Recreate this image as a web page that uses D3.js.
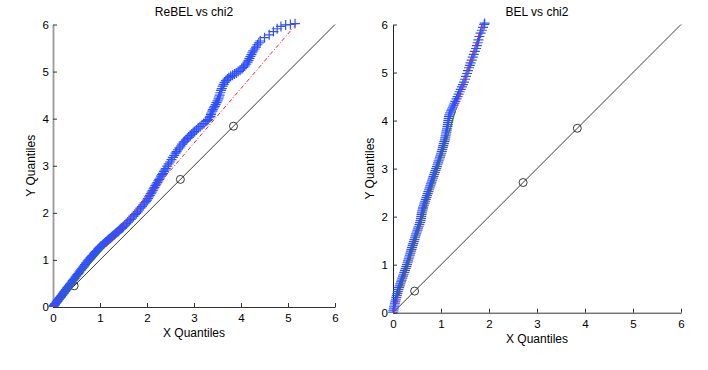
<!DOCTYPE html>
<meta charset="utf-8">
<style>
body { margin: 0; background: #fff; }
text { font-family: "Liberation Sans", Arial, sans-serif; fill: #000; }
.tick text { font-size: 11.5px; }
</style>
<body>
<script src="https://d3js.org/d3.v7.min.js"></script>
<script>

// axis ticks for both panels
var tickVals = [0, 1, 2, 3, 4, 5, 6];

// chi2 reference quantiles (circles on the 45 degree line)
var refQuantiles = [0.45, 2.71, 3.84];

// ReBEL vs chi2 : [chi2 quantile, sample quantile]
var rebelPts = [
  [0.00,0.00],[0.01,0.01],[0.02,0.03],[0.03,0.04],[0.04,0.05],[0.05,0.07],[0.06,0.08],[0.07,0.09],[0.08,0.11],[0.09,0.12],
  [0.10,0.13],[0.11,0.15],[0.12,0.16],[0.13,0.17],[0.14,0.19],[0.15,0.20],[0.16,0.21],[0.17,0.22],[0.18,0.24],[0.19,0.25],
  [0.20,0.26],[0.21,0.28],[0.22,0.29],[0.23,0.30],[0.24,0.32],[0.25,0.33],[0.26,0.34],[0.27,0.36],[0.28,0.37],[0.29,0.38],
  [0.30,0.40],[0.31,0.41],[0.32,0.42],[0.33,0.44],[0.34,0.45],[0.36,0.48],[0.38,0.50],[0.40,0.53],[0.42,0.56],[0.44,0.58],
  [0.46,0.61],[0.48,0.64],[0.50,0.66],[0.52,0.69],[0.54,0.71],[0.56,0.74],[0.58,0.77],[0.60,0.79],[0.62,0.82],[0.64,0.85],
  [0.66,0.87],[0.68,0.90],[0.70,0.93],[0.72,0.95],[0.74,0.98],[0.76,1.00],[0.78,1.02],[0.80,1.05],[0.82,1.07],[0.84,1.09],
  [0.86,1.11],[0.88,1.14],[0.90,1.16],[0.92,1.18],[0.94,1.20],[0.96,1.23],[0.98,1.25],[1.00,1.27],[1.02,1.29],[1.04,1.30],
  [1.06,1.32],[1.08,1.34],[1.10,1.36],[1.12,1.38],[1.14,1.39],[1.16,1.41],[1.18,1.43],[1.20,1.45],[1.22,1.46],[1.24,1.48],
  [1.26,1.50],[1.28,1.52],[1.30,1.53],[1.32,1.55],[1.34,1.57],[1.36,1.59],[1.38,1.60],[1.40,1.62],[1.42,1.64],[1.44,1.66],
  [1.46,1.67],[1.48,1.69],[1.50,1.71],[1.53,1.74],[1.56,1.77],[1.59,1.80],[1.62,1.83],[1.65,1.86],[1.68,1.89],[1.71,1.93],
  [1.74,1.96],[1.77,1.99],[1.80,2.02],[1.83,2.06],[1.86,2.10],[1.89,2.13],[1.92,2.17],[1.95,2.21],[1.98,2.24],[2.00,2.27],
  [2.02,2.30],[2.04,2.34],[2.06,2.37],[2.08,2.41],[2.10,2.44],[2.12,2.47],[2.14,2.51],[2.16,2.54],[2.18,2.58],[2.20,2.61],
  [2.22,2.64],[2.24,2.68],[2.26,2.71],[2.28,2.74],[2.30,2.78],[2.32,2.81],[2.34,2.84],[2.36,2.88],[2.38,2.91],[2.40,2.94],
  [2.43,2.99],[2.46,3.04],[2.49,3.08],[2.52,3.13],[2.55,3.18],[2.58,3.22],[2.61,3.27],[2.63,3.30],[2.66,3.34],[2.69,3.38],
  [2.72,3.42],[2.75,3.46],[2.78,3.50],[2.80,3.52],[2.83,3.55],[2.86,3.58],[2.89,3.61],[2.92,3.64],[2.95,3.67],[2.98,3.70],
  [3.01,3.73],[3.05,3.76],[3.09,3.80],[3.13,3.83],[3.17,3.87],[3.21,3.90],[3.25,3.94],[3.28,3.96],[3.30,3.98],[3.33,4.02],
  [3.35,4.05],[3.36,4.09],[3.37,4.12],[3.39,4.16],[3.40,4.19],[3.42,4.23],[3.44,4.26],[3.46,4.30],[3.48,4.34],[3.50,4.38],
  [3.52,4.42],[3.53,4.46],[3.545,4.50],[3.56,4.55],[3.575,4.60],[3.59,4.64],[3.61,4.69],[3.63,4.73],[3.65,4.77],[3.68,4.81],
  [3.71,4.84],[3.74,4.87],[3.78,4.90],[3.82,4.92],[3.86,4.95],[3.90,4.97],[3.94,5.00],[3.98,5.03],[4.02,5.06],[4.05,5.09],
  [4.08,5.12],[4.11,5.16],[4.14,5.20],[4.16,5.24],[4.18,5.28],[4.20,5.32],[4.22,5.36],[4.24,5.40],[4.26,5.44],[4.29,5.48],
  [4.32,5.52],[4.35,5.57],[4.38,5.61],[4.41,5.65],[4.50,5.72],[4.60,5.78],[4.69,5.85],[4.77,5.91],[4.85,5.96],[4.95,5.99],
  [5.05,6.00],[5.15,6.02]
];
var rebelFit = [[0, 0], [5.17, 6]];          // red dash-dot
var rebelQuart = [[0.15, 0.17], [1.1, 1.28]]; // green segment

// BEL vs chi2 : [chi2 quantile, sample quantile]
var belPts = [
  [0.000,0.00],[0.008,0.04],[0.016,0.08],[0.024,0.12],[0.032,0.16],[0.040,0.20],[0.050,0.24],[0.060,0.28],[0.070,0.32],[0.080,0.36],
  [0.090,0.40],[0.100,0.44],[0.113,0.48],[0.127,0.52],[0.140,0.56],[0.153,0.60],[0.167,0.64],[0.180,0.68],[0.194,0.72],[0.208,0.76],
  [0.222,0.80],[0.236,0.84],[0.250,0.88],[0.264,0.92],[0.278,0.96],[0.290,1.00],[0.302,1.04],[0.314,1.08],[0.326,1.12],[0.338,1.16],
  [0.350,1.20],[0.362,1.24],[0.374,1.28],[0.386,1.32],[0.398,1.36],[0.410,1.40],[0.422,1.44],[0.434,1.48],[0.446,1.52],[0.458,1.56],
  [0.470,1.60],[0.483,1.64],[0.497,1.68],[0.510,1.72],[0.523,1.76],[0.537,1.80],[0.550,1.84],[0.565,1.88],[0.575,1.92],[0.582,1.96],
  [0.588,2.00],[0.594,2.04],[0.600,2.08],[0.610,2.12],[0.620,2.16],[0.630,2.20],[0.643,2.24],[0.657,2.28],[0.670,2.32],[0.683,2.36],
  [0.697,2.40],[0.710,2.44],[0.723,2.48],[0.737,2.52],[0.750,2.56],[0.763,2.60],[0.777,2.64],[0.790,2.68],[0.803,2.72],[0.817,2.76],
  [0.830,2.80],[0.844,2.84],[0.858,2.88],[0.872,2.92],[0.886,2.96],[0.900,3.00],[0.913,3.04],[0.927,3.08],[0.940,3.12],[0.953,3.16],
  [0.967,3.20],[0.980,3.24],[0.993,3.28],[1.005,3.32],[1.016,3.36],[1.027,3.40],[1.037,3.44],[1.048,3.48],[1.059,3.52],[1.069,3.56],
  [1.080,3.60],[1.088,3.64],[1.096,3.68],[1.104,3.72],[1.112,3.76],[1.120,3.80],[1.128,3.84],[1.136,3.88],[1.143,3.92],[1.148,3.96],
  [1.153,4.00],[1.158,4.04],[1.165,4.08],[1.175,4.12],[1.192,4.16],[1.210,4.20],[1.228,4.24],[1.246,4.28],[1.264,4.32],[1.282,4.36],
  [1.300,4.40],[1.323,4.45],[1.345,4.50],[1.367,4.55],[1.390,4.60],[1.412,4.65],[1.434,4.70],[1.456,4.75],[1.478,4.80],[1.500,4.86],
  [1.520,4.92],[1.541,4.98],[1.562,5.04],[1.583,5.10],[1.600,5.15],[1.618,5.20],[1.640,5.26],[1.662,5.32],[1.684,5.38],[1.705,5.44],
  [1.730,5.50],[1.747,5.56],[1.764,5.62],[1.781,5.68],[1.800,5.75],[1.826,5.82],[1.851,5.88],[1.875,5.94],[1.900,6.00],[1.910,6.03]
];
var belFit = [[0.02, 0], [1.85, 6]];
var belQuart = [[0.09, 0.3], [1.3, 4.2]];

var svg = d3.select("body").append("svg")
    .attr("width", 708)
    .attr("height", 370);

function panel(cfg) {
  var x = d3.scaleLinear().domain([0, 6]).range([cfg.left, cfg.right]);
  var y = d3.scaleLinear().domain([0, 6]).range([cfg.bottom, cfg.top]);
  var g = svg.append("g");

  var clipId = "clip" + cfg.id;
  svg.append("clipPath").attr("id", clipId)
    .append("rect")
      .attr("x", cfg.left - 6).attr("y", cfg.top - 6)
      .attr("width", cfg.right - cfg.left + 12).attr("height", cfg.bottom - cfg.top + 6);

  // x axis, ticks pointing inward like matlab
  g.append("g")
      .attr("transform", "translate(0," + cfg.bottom + ")")
      .call(d3.axisBottom(x).tickValues(tickVals).tickFormat(d3.format("d"))
        .tickSizeInner(-4).tickSizeOuter(0).tickPadding(cfg.xPad))
      .call(function(a) {
        a.select(".domain").attr("stroke", "#333");
        a.selectAll(".tick line").attr("stroke", "#333");
      });

  // y axis
  g.append("g")
      .attr("transform", "translate(" + cfg.left + ",0)")
      .call(d3.axisLeft(y).tickValues(tickVals).tickFormat(d3.format("d"))
        .tickSizeInner(-4).tickSizeOuter(0).tickPadding(cfg.yPad))
      .call(function(a) {
        a.select(".domain").attr("stroke", cfg.yAxisColor).attr("stroke-width", cfg.yAxisWidth);
        a.selectAll(".tick line").attr("stroke", "#333");
      });
  g.selectAll(".tick text").attr("fill", "#000");

  var plot = g.append("g").attr("clip-path", "url(#" + clipId + ")");

  // 45 degree reference line with circles
  plot.append("line")
      .attr("x1", x(0)).attr("y1", y(0)).attr("x2", x(6)).attr("y2", y(6))
      .attr("stroke", "#222").attr("stroke-width", 0.9);
  plot.selectAll("circle.ref").data(refQuantiles).enter().append("circle")
      .attr("class", "ref")
      .attr("cx", function(d) { return x(d); })
      .attr("cy", function(d) { return y(d); })
      .attr("r", 4)
      .attr("fill", "none").attr("stroke", "#222").attr("stroke-width", 0.9);

  // sample quantiles as + markers
  plot.selectAll("path.pt").data(cfg.pts).enter().append("path")
      .attr("class", "pt")
      .attr("d", function(d) {
        var cx = x(d[0]), cy = y(d[1]);
        return "M" + (cx - 5) + "," + cy + "H" + (cx + 5) + "M" + cx + "," + (cy - 5) + "V" + (cy + 5);
      })
      .attr("stroke", "#2f50ff").attr("stroke-width", 1.2).attr("fill", "none");

  var line = d3.line().x(function(d) { return x(d[0]); }).y(function(d) { return y(d[1]); });

  plot.append("path").datum(cfg.fit)
      .attr("d", line)
      .attr("stroke", "#ff2020").attr("stroke-width", 1)
      .attr("stroke-dasharray", "4,2,1,2").attr("fill", "none");

  plot.append("path").datum(cfg.quart)
      .attr("d", line)
      .attr("stroke", "#1a8a1a").attr("stroke-width", 1).attr("fill", "none");

  // titles and labels
  svg.append("text")
      .attr("x", (cfg.left + cfg.right) / 2).attr("y", 15.5)
      .attr("text-anchor", "middle").style("font-size", "12px")
      .text(cfg.title);
  svg.append("text")
      .attr("x", (cfg.left + cfg.right) / 2).attr("y", cfg.bottom + 30)
      .attr("text-anchor", "middle").style("font-size", "12px")
      .text("X Quantiles");
  svg.append("text")
      .attr("transform", "translate(" + cfg.yLabelX + "," + (cfg.top + cfg.bottom) / 2 + ") rotate(-90)")
      .attr("text-anchor", "middle").style("font-size", "12px")
      .text("Y Quantiles");
}

panel({ id: 1, left: 53, right: 335, top: 24.5, bottom: 307, xPad: 7, yPad: 4,
        yAxisColor: "#9a9a9a", yAxisWidth: 1.8, yLabelX: 34.5,
        title: "ReBEL vs chi2", pts: rebelPts, fit: rebelFit, quart: rebelQuart });

panel({ id: 2, left: 393, right: 681, top: 24.5, bottom: 312.7, xPad: 7.5, yPad: 5,
        yAxisColor: "#222", yAxisWidth: 1, yLabelX: 374,
        title: "BEL vs chi2", pts: belPts, fit: belFit, quart: belQuart });

</script>
</body>
